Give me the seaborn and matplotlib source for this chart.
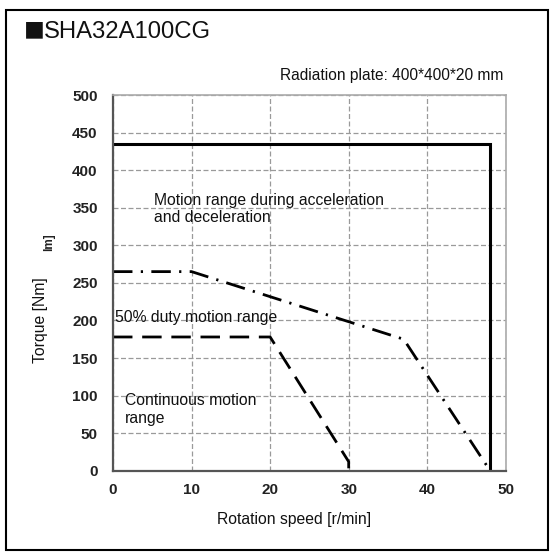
import matplotlib
matplotlib.use("Agg")
import matplotlib.pyplot as plt
import seaborn as sns
import pandas as pd
from matplotlib.patches import Rectangle

sns.set_theme(style="white")
plt.rcParams['font.family'] = ['Liberation Sans', 'DejaVu Sans']

# Data
accel_speed = [0, 48, 48]
accel_torque = [435, 435, 0]
duty_speed = [0, 10, 37, 48]
duty_torque = [265, 265, 175, 0]
cont_speed = [0, 20, 30, 30]
cont_torque = [178, 178, 12, 0]
x_ticks = [0, 10, 20, 30, 40, 50]
y_ticks = [0, 50, 100, 150, 200, 250, 300, 350, 400, 450, 500]

fig = plt.figure(figsize=(5.54, 5.56), dpi=100)
ax = fig.add_axes([0.204, 0.1534, 0.709, 0.6756])

# outer frame
fig.patches.append(Rectangle((0.011, 0.011), 0.978, 0.971, transform=fig.transFigure,
                             fill=False, edgecolor='black', linewidth=1.5))

df_a = pd.DataFrame({'x': accel_speed, 'y': accel_torque})
df_d = pd.DataFrame({'x': duty_speed, 'y': duty_torque})
df_c = pd.DataFrame({'x': cont_speed, 'y': cont_torque})

sns.lineplot(data=df_a, x='x', y='y', ax=ax, sort=False, estimator=None,
             color='black', linewidth=2.2)
sns.lineplot(data=df_d, x='x', y='y', ax=ax, sort=False, estimator=None,
             color='black', linewidth=2.0)
ax.lines[-1].set_linestyle((0, (7, 3, 0.8, 3)))
sns.lineplot(data=df_c, x='x', y='y', ax=ax, sort=False, estimator=None,
             color='black', linewidth=2.0)
ax.lines[-1].set_linestyle((0, (7, 3.5)))
for ln in ax.lines:
    ln.set_dash_capstyle('butt')
    ln.set_solid_joinstyle('miter')

ax.set_xlim(0, 50)
ax.set_ylim(0, 500)
ax.set_xticks(x_ticks)
ax.set_yticks(y_ticks)
ax.set_xticklabels([str(v) for v in x_ticks])
ax.set_yticklabels([str(v) for v in y_ticks])
for lab in ax.get_xticklabels() + ax.get_yticklabels():
    lab.set_family(['Liberation Sans Narrow', 'Liberation Sans'])
    lab.set_fontweight('bold')
    lab.set_fontsize(11)
    lab.set_color('#222222')
ax.tick_params(axis='x', length=0, pad=9)
ax.tick_params(axis='y', length=0, pad=11)

ax.grid(True, linestyle=(0, (4, 2)), color='#9a9a9a', linewidth=0.9)
ax.set_axisbelow(True)

for s in ['left', 'bottom']:
    ax.spines[s].set_color('#555555')
    ax.spines[s].set_linewidth(1.6)
for s in ['top', 'right']:
    ax.spines[s].set_color('#aaaaaa')
    ax.spines[s].set_linewidth(1.2)

ax.set_xlabel('Rotation speed [r/min]', fontsize=11.3, color='#111111')
ax.xaxis.set_label_coords(0.46, -0.11)
ax.set_ylabel('Torque [Nm]', fontsize=11.3, color='#111111')
ax.yaxis.set_label_coords(-0.165, 0.40)

ax.text(5.2, 348, 'Motion range during acceleration\nand deceleration', fontsize=11.3,
        va='center', ha='left', linespacing=1.2, color='#111111')
ax.text(0.3, 204.5, '50% duty motion range', fontsize=11.3, va='center', ha='left',
        color='#111111')
ax.text(1.5, 81.5, 'Continuous motion\nrange', fontsize=11.3, va='center', ha='left',
        linespacing=1.2, color='#111111')

fig.text(0.044, 0.943, '■', fontsize=15, va='center', ha='left', color='#111111',
         family=['Noto Sans CJK JP', 'DejaVu Sans'])
fig.text(0.080, 0.943, 'SHA32A100CG', fontsize=17.2, va='center', ha='left', color='#111111')
fig.text(0.908, 0.865, 'Radiation plate: 400*400*20 mm', fontsize=11.2, va='center', ha='right',
         color='#111111')
fig.text(0.088, 0.565, 'lm]', fontsize=8.5, rotation=90, va='center', ha='center',
         fontweight='bold', color='#222222')

fig.savefig('out.png', dpi=100)
